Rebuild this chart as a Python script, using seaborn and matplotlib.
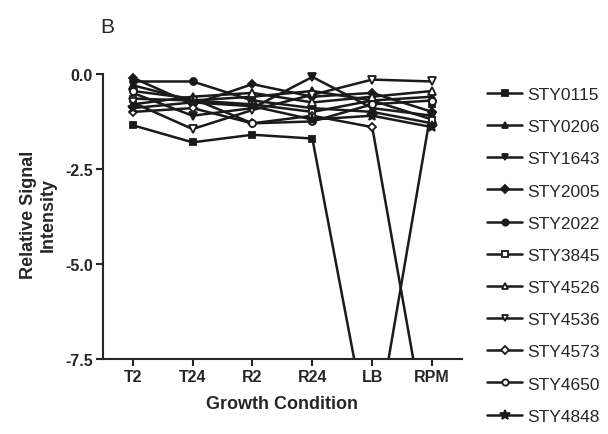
import pandas as pd
import matplotlib
matplotlib.use("Agg")
import matplotlib.pyplot as plt
import seaborn as sns

sns.set_style("ticks")
plt.rcParams["font.family"] = ["Liberation Sans", "DejaVu Sans"]

conditions = ["T2", "T24", "R2", "R24", "LB", "RPM"]

genes = ["STY0115", "STY0206", "STY1643", "STY2005", "STY2022", "STY3845",
         "STY4526", "STY4536", "STY4573", "STY4650", "STY4848"]

sty0115 = [-1.35, -1.8, -1.6, -1.7, -10.0, -0.8]
sty0206 = [-0.3, -0.7, -0.6, -0.45, -0.7, -0.6]
sty1643 = [-0.5, -1.1, -0.9, -0.08, -0.9, -1.1]
sty2005 = [-0.1, -0.8, -0.27, -0.6, -0.5, -1.0]
sty2022 = [-0.2, -0.2, -0.7, -0.9, -1.0, -1.3]
sty3845 = [-0.65, -0.7, -0.8, -1.0, -0.7, -1.2]
sty4526 = [-0.8, -0.6, -0.5, -0.75, -0.6, -0.45]
sty4536 = [-0.75, -1.45, -0.95, -0.55, -0.15, -0.2]
sty4573 = [-1.0, -0.9, -1.3, -1.1, -1.4, -10.3]
sty4650 = [-0.45, -0.65, -1.3, -1.25, -0.8, -0.7]
sty4848 = [-0.9, -0.75, -0.85, -1.2, -1.1, -1.4]

values = [sty0115, sty0206, sty1643, sty2005, sty2022, sty3845,
          sty4526, sty4536, sty4573, sty4650, sty4848]

markers = ["s", "^", "v", "D", "o", "s", "^", "v", "D", "o", "*"]
filled = [True, True, True, True, True, False, False, False, False, False, True]
sizes = [5, 5.5, 5.5, 4.5, 5, 5, 5.5, 5.5, 4.5, 5, 8]

fig = plt.figure(figsize=(6.08, 4.35), dpi=100)
ax = fig.add_axes([0.169, 0.172, 0.591, 0.669])

for gene, vals, mk, fl, ms in zip(genes, values, markers, filled, sizes):
    df = pd.DataFrame({"condition": range(len(conditions)), "value": vals})
    sns.lineplot(
        x="condition",
        y="value",
        data=df,
        ax=ax,
        color="#1a1a1a",
        linewidth=1.8,
        marker=mk,
        markersize=ms,
        markerfacecolor="#1a1a1a" if fl else "white",
        markeredgecolor="#1a1a1a",
        markeredgewidth=1.3,
        label=gene,
    )

ax.set_xlim(-0.5, 5.5)
ax.set_ylim(-7.5, 0.15)
ax.set_xticks(range(len(conditions)))
ax.set_xticklabels(conditions, fontsize=11.5, fontweight="bold")
ax.set_yticks([0.0, -2.5, -5.0, -7.5])
ax.set_yticklabels(["0.0", "-2.5", "-5.0", "-7.5"], fontsize=11.5, fontweight="bold")
ax.spines["top"].set_visible(False)
ax.spines["right"].set_visible(False)
ax.spines["left"].set_bounds(-7.5, 0.0)
for s in ["left", "bottom"]:
    ax.spines[s].set_linewidth(1.5)
ax.tick_params(direction="out", length=5, width=1.5, pad=2)

ax.set_xlabel("Growth Condition", fontsize=13, fontweight="bold", labelpad=8)
ax.set_ylabel("Relative Signal\nIntensity", fontsize=13, fontweight="bold", labelpad=6)

fig.text(0.165, 0.925, "B", fontsize=15)

ax.legend(
    loc="upper left",
    bbox_to_anchor=(0.79, 0.814),
    bbox_transform=fig.transFigure,
    frameon=False,
    fontsize=12.5,
    handlelength=2.0,
    handletextpad=0.3,
    labelspacing=0.98,
    borderaxespad=0,
    markerscale=0.9,
)

plt.savefig("out.png", dpi=100)
